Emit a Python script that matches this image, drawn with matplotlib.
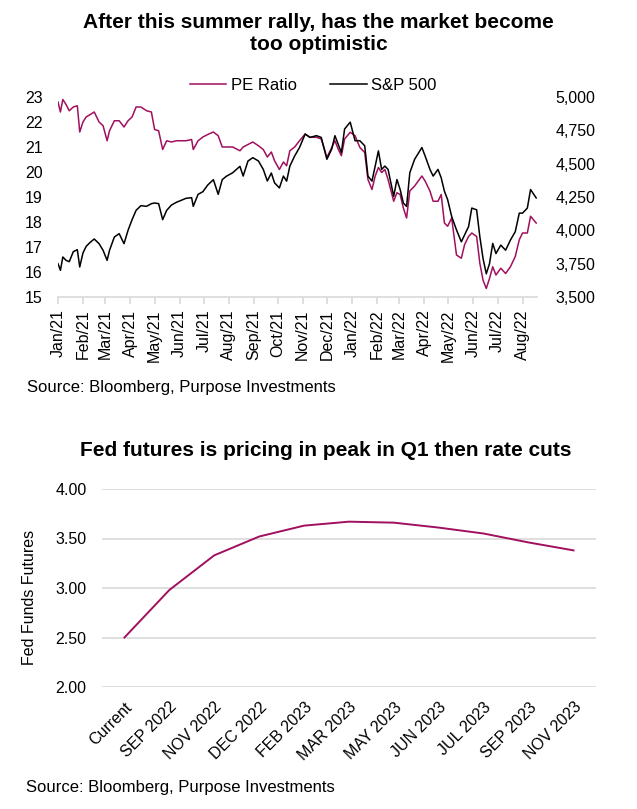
import matplotlib
matplotlib.use("Agg")
import matplotlib.pyplot as plt
import matplotlib.dates as mdates
from matplotlib.ticker import FuncFormatter
import pandas as pd

plt.rcParams['font.family'] = ['Liberation Sans', 'DejaVu Sans']

# ---------------------------------------------------------------
# Data: PE ratio vs S&P 500
# ---------------------------------------------------------------
dates = ["2021-01-01", "2021-01-04", "2021-01-07", "2021-01-11", "2021-01-15", "2021-01-20", "2021-01-25", "2021-01-28",
         "2021-02-01", "2021-02-05", "2021-02-10", "2021-02-15", "2021-02-21", "2021-02-26",
         "2021-03-03", "2021-03-06", "2021-03-12", "2021-03-18", "2021-03-24", "2021-03-29",
         "2021-04-03", "2021-04-08", "2021-04-14", "2021-04-21", "2021-04-27",
         "2021-05-01", "2021-05-06", "2021-05-11", "2021-05-16", "2021-05-22", "2021-05-28",
         "2021-06-03", "2021-06-09", "2021-06-16", "2021-06-18", "2021-06-24", "2021-06-30",
         "2021-07-06", "2021-07-13", "2021-07-19", "2021-07-24", "2021-07-29",
         "2021-08-06", "2021-08-15", "2021-08-19", "2021-08-25", "2021-08-31",
         "2021-09-07", "2021-09-13", "2021-09-18", "2021-09-23", "2021-09-27",
         "2021-10-03", "2021-10-08", "2021-10-12", "2021-10-16", "2021-10-22", "2021-10-28",
         "2021-11-04", "2021-11-10", "2021-11-18", "2021-11-24",
         "2021-12-01", "2021-12-07", "2021-12-11", "2021-12-15", "2021-12-19", "2021-12-23", "2021-12-30",
         "2022-01-05", "2022-01-11", "2022-01-17", "2022-01-21", "2022-01-26", "2022-01-30",
         "2022-02-03", "2022-02-07", "2022-02-11", "2022-02-15", "2022-02-22", "2022-02-26",
         "2022-03-02", "2022-03-06", "2022-03-10", "2022-03-14", "2022-03-20", "2022-03-29",
         "2022-04-02", "2022-04-08", "2022-04-12", "2022-04-18", "2022-04-22", "2022-04-26", "2022-04-30",
         "2022-05-05", "2022-05-11", "2022-05-17", "2022-05-21", "2022-05-26", "2022-05-30",
         "2022-06-05", "2022-06-09", "2022-06-13", "2022-06-17", "2022-06-21", "2022-06-25", "2022-06-29",
         "2022-07-05", "2022-07-11", "2022-07-17", "2022-07-23", "2022-07-28",
         "2022-08-01", "2022-08-07", "2022-08-11", "2022-08-18"]

pe_ratio = [22.8, 22.4, 22.9, 22.7, 22.45, 22.6, 22.65, 21.6,
            22.0, 22.2, 22.3, 22.4, 22.0, 21.85,
            21.25, 21.65, 22.05, 22.05, 21.8, 22.05,
            22.2, 22.6, 22.6, 22.45, 22.4,
            21.7, 21.65, 20.9, 21.25, 21.2, 21.25,
            21.25, 21.25, 21.3, 20.9, 21.25, 21.4,
            21.5, 21.6, 21.45, 21.0, 21.0,
            21.0, 20.85, 21.0, 21.1, 21.2,
            21.05, 20.9, 20.6, 20.8, 20.45,
            20.1, 20.4, 20.25, 20.85, 21.0, 21.25,
            21.52, 21.39, 21.39, 21.32,
            20.58, 20.98, 21.25, 20.92, 20.65, 21.32, 21.59,
            21.45, 20.98, 20.78, 19.7, 19.3, 19.84,
            20.18, 19.98, 20.1, 19.7, 18.83, 19.17,
            19.1, 18.56, 18.16, 19.24, 19.44, 19.84,
            19.64, 19.24, 18.83, 18.83, 19.1, 17.96, 17.83,
            18.16, 16.68, 16.55, 17.09, 17.42, 17.56,
            17.42, 16.35, 15.67, 15.34, 15.74, 16.21, 15.88,
            16.15, 15.94, 16.21, 16.62, 17.29,
            17.56, 17.56, 18.23, 17.96]

spx = [3750, 3700, 3800, 3775, 3765, 3840, 3855, 3725,
       3830, 3880, 3910, 3935, 3900, 3850,
       3775, 3850, 3950, 3975, 3900, 4000,
       4080, 4150, 4185, 4180, 4200,
       4205, 4200, 4080, 4150, 4190, 4210,
       4225, 4240, 4245, 4180, 4270, 4290,
       4340, 4380, 4270, 4380, 4405,
       4432, 4480, 4407, 4520, 4545,
       4520, 4457, 4370, 4430, 4356,
       4318, 4407, 4369, 4482, 4558, 4621,
       4722, 4697, 4710, 4697,
       4533, 4609, 4710, 4646, 4583, 4760, 4811,
       4672, 4672, 4634, 4407, 4369, 4482,
       4596, 4457, 4482, 4457, 4255, 4381,
       4306, 4205, 4179, 4432, 4533, 4621,
       4558, 4457, 4407, 4457, 4394, 4293, 4230,
       4104, 4003, 3914, 3965, 4028, 4167,
       4154, 3952, 3788, 3674, 3750, 3902, 3826,
       3889, 3851, 3927, 3990, 4129,
       4129, 4167, 4306, 4243]

# ---------------------------------------------------------------
# Data: Fed funds futures curve
# ---------------------------------------------------------------
fed_labels = ['Current', 'SEP 2022', 'NOV 2022', 'DEC 2022', 'FEB 2023', 'MAR 2023',
              'MAY 2023', 'JUN 2023', 'JUL 2023', 'SEP 2023', 'NOV 2023']
fed_values = [2.50, 2.98, 3.33, 3.52, 3.63, 3.67, 3.66, 3.61, 3.55, 3.46, 3.38]

# styles
magenta = '#A0105F'
grid_gray = '#D9D9D9'
tick_size = 11.5
title_size = 15

W, H = 637, 809
fig = plt.figure(figsize=(W / 100, H / 100), dpi=100)
fig.patch.set_facecolor('white')

def fx(px):
    return px / W

def fy(py):
    return 1 - py / H

# ======================= top chart =======================
dt = pd.to_datetime(dates)

ax = fig.add_axes([fx(58), fy(297), fx(537) - fx(58), fy(97) - fy(297)])
ax2 = ax.twinx()

l1, = ax.plot(dt, pe_ratio, color=magenta, lw=1.1, label='PE Ratio')
l2, = ax2.plot(dt, spx, color='black', lw=1.1, label='S&P 500')

ax.set_xlim(pd.Timestamp('2021-01-01'), pd.Timestamp('2022-08-19'))
ax.set_ylim(15, 23)
ax.set_yticks(range(15, 24))
ax2.set_ylim(3500, 5000)
ax2.set_yticks(range(3500, 5001, 250))
ax2.yaxis.set_major_formatter(FuncFormatter(lambda v, p: '{:,.0f}'.format(v)))

ax.xaxis.set_major_locator(mdates.MonthLocator())
ax.xaxis.set_major_formatter(mdates.DateFormatter('%b/%y'))
for lab in ax.get_xticklabels():
    lab.set_rotation(90)

for a in (ax, ax2):
    for s in ('top', 'left', 'right'):
        a.spines[s].set_visible(False)
ax2.spines['bottom'].set_visible(False)
ax.spines['bottom'].set_color(grid_gray)
ax.spines['bottom'].set_linewidth(1.2)

ax.tick_params(axis='x', direction='out', length=5, width=1.2, color=grid_gray,
               labelsize=tick_size, pad=4)
ax.tick_params(axis='y', length=0, labelsize=tick_size, pad=11)
ax2.tick_params(axis='y', length=0, labelsize=tick_size, pad=13.5)

fig.legend(handles=[l1, l2], loc='center', bbox_to_anchor=(fx(313), fy(85)),
           ncol=2, frameon=False, fontsize=12, handlelength=2.2,
           handletextpad=0.25, columnspacing=2.0)

fig.text(0.5, fy(28), 'After this summer rally, has the market become',
         ha='center', va='baseline', fontsize=title_size, fontweight='bold')
fig.text(0.5, fy(50), 'too optimistic',
         ha='center', va='baseline', fontsize=title_size, fontweight='bold')
fig.text(fx(27), fy(392), 'Source: Bloomberg, Purpose Investments',
         ha='left', va='baseline', fontsize=12)

# ======================= bottom chart =======================
bx = fig.add_axes([fx(102), fy(687), fx(596) - fx(102), fy(489) - fy(687)])
xpos = list(range(len(fed_labels)))
bx.plot(xpos, fed_values, color=magenta, lw=1.4)
bx.set_xlim(-0.5, len(fed_labels) - 0.5)
bx.set_ylim(2.0, 4.0)
bx.set_yticks([2.0, 2.5, 3.0, 3.5, 4.0])
bx.yaxis.set_major_formatter(FuncFormatter(lambda v, p: '{:.2f}'.format(v)))
bx.grid(axis='y', color=grid_gray, lw=1.2)
bx.set_axisbelow(True)
for s in bx.spines.values():
    s.set_visible(False)
bx.set_xticks(xpos)
bx.set_xticklabels(fed_labels, rotation=45, ha='right', va='top',
                   rotation_mode='anchor')
bx.tick_params(axis='x', length=0, labelsize=tick_size, pad=9)
bx.tick_params(axis='y', length=0, labelsize=tick_size, pad=11)

fig.text(fx(30), fy(597), 'Fed Funds Futures', rotation=90,
         ha='center', va='center', fontsize=tick_size)
fig.text(fx(326), fy(456), 'Fed futures is pricing in peak in Q1 then rate cuts',
         ha='center', va='baseline', fontsize=title_size, fontweight='bold')
fig.text(fx(26), fy(792), 'Source: Bloomberg, Purpose Investments',
         ha='left', va='baseline', fontsize=12)

fig.savefig('out.png', dpi=100, facecolor='white')
